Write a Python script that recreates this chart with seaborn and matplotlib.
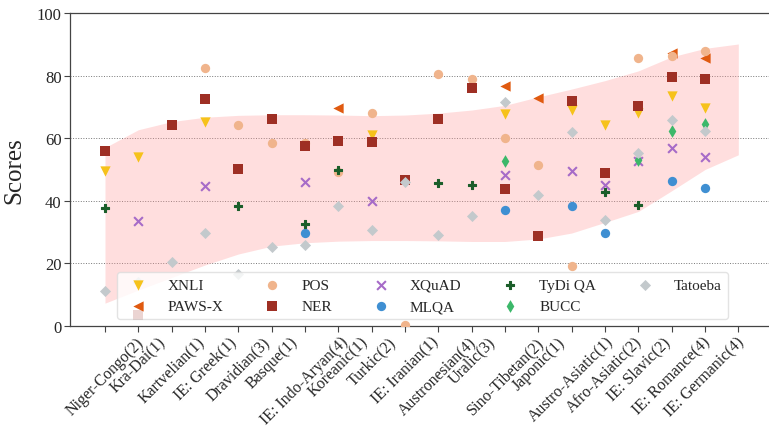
import numpy as np
import matplotlib
matplotlib.use("Agg")
import matplotlib.pyplot as plt
import seaborn as sns

# ----------------------------------------
# Data
# ----------------------------------------
families = ["Niger-Congo(2)", "Kra-Dai(1)", "Kartvelian(1)", "IE: Greek(1)",
            "Dravidian(3)", "Basque(1)", "IE: Indo-Aryan(4)", "Koreanic(1)",
            "Turkic(2)", "IE: Iranian(1)", "Austronesian(4)", "Uralic(3)",
            "Sino-Tibetan(2)", "Japonic(1)", "Austro-Asiatic(1)",
            "Afro-Asiatic(2)", "IE: Slavic(2)", "IE: Romance(4)", "IE: Germanic(4)"]

nan = np.nan
xnli    = [49.6, 54.1, nan, 65.3, nan, nan, nan, nan, 61.1, nan, nan, nan,
           67.6, nan, 69.1, 64.3, 67.9, 73.4, 69.8]
pawsx   = [nan, nan, nan, nan, nan, nan, nan, 69.6, nan, nan, nan, nan,
           76.8, 72.8, nan, nan, nan, 87.2, 85.5]
pos     = [nan, nan, nan, 82.3, 64.3, 58.4, 58.6, 49.1, 68.1, 0.3, 80.4, 78.8,
           60.1, 51.5, 19.1, nan, 85.5, 86.4, 87.8]
ner     = [56.0, 3.5, 64.3, 72.4, 50.3, 66.2, 57.5, 59.2, 58.7, 46.5, 66.0, 76.1,
           43.8, 28.8, 71.8, 48.8, 70.4, 79.6, 78.9]
xquad   = [nan, 33.4, nan, 44.6, nan, nan, 45.9, nan, 39.9, nan, nan, nan,
           48.3, nan, 49.4, 45.2, 52.8, 56.8, 53.9]
mlqa    = [nan, nan, nan, nan, nan, nan, 29.6, nan, nan, nan, nan, nan,
           37.1, nan, 38.4, 29.7, nan, 46.4, 44.1]
tydiqa  = [37.7, nan, nan, nan, 38.2, nan, 32.6, 49.8, nan, nan, 45.6, 45.2,
           nan, nan, nan, 42.7, 38.8, nan, nan]
bucc    = [nan, nan, nan, nan, nan, nan, nan, nan, nan, nan, nan, nan,
           52.6, nan, nan, nan, 53.0, 62.3, 64.5]
tatoeba = [11.3, 14.0, 20.3, 29.7, 16.6, 25.3, 26.0, 38.2, 30.8, 46.0, 29.2, 35.2,
           71.5, 41.9, 61.9, 34.0, 55.3, 65.9, 62.2]

# shaded band, one value per tick (20 ticks)
band_lower = [7.3, 11.5, 15.5, 19.5, 23.0, 25.5, 26.6, 27.1, 27.3, 27.3,
              27.2, 27.0, 27.0, 27.8, 29.7, 33.1, 36.6, 43.2, 50.0, 54.7]
band_upper = [57.0, 62.7, 65.3, 66.7, 67.3, 67.5, 67.5, 67.4, 67.2, 67.4,
              68.0, 69.0, 70.5, 73.2, 75.7, 78.4, 81.5, 86.0, 88.7, 90.1]

tasks = [
    ("XNLI", xnli, "v", "#f6c21b", 55),
    ("PAWS-X", pawsx, "<", "#e05a10", 55),
    ("POS", pos, "o", "#f0b48c", 45),
    ("NER", ner, "s", "#9e2f24", 50),
    ("XQuAD", xquad, "x", "#a66bc8", 40),
    ("MLQA", mlqa, "o", "#3f8fd2", 45),
    ("TyDi QA", tydiqa, "P", "#1b5e2a", 38),
    ("BUCC", bucc, "d", "#3cb86a", 42),
    ("Tatoeba", tatoeba, "D", "#c3c9cc", 32),
]

# ----------------------------------------
# Style
# ----------------------------------------
sns.set_style("white")
plt.rcParams["font.family"] = ["Liberation Serif", "DejaVu Serif"]

fig = plt.figure(figsize=(7.69, 4.31), dpi=100)
ax = fig.add_axes([70 / 769, 104 / 431, 705 / 769, 313 / 431])

xpos = np.arange(len(families))
band_x = np.arange(len(band_lower))
ax.fill_between(band_x, band_lower, band_upper, color="#ff9a9a", alpha=0.32,
                linewidth=0, zorder=1)

for name, vals, mk, col, size in tasks:
    if mk == "x":
        lw, ec = 1.5, None
    elif mk == "P":
        lw, ec = 0.8, col
    else:
        lw, ec = 0, None
    sns.scatterplot(x=xpos, y=vals, marker=mk, color=col, s=size,
                    linewidth=lw, edgecolor=ec, label=name, ax=ax, zorder=3)

ax.set_xlim(-1.05, 20.1)
ax.set_ylim(0, 100)
ax.set_yticks([0, 20, 40, 60, 80, 100])
ax.set_xticks(band_x)
ax.set_xticklabels(families + [""], rotation=45, fontsize=11.5)
ax.tick_params(axis="x", pad=1.5)
ax.tick_params(axis="y", labelsize=12, pad=2)
ax.tick_params(axis="both", direction="out", length=4, width=0.8,
               color="#444444", bottom=True, left=True)

ax.yaxis.grid(True, linestyle=":", color="#777777", linewidth=0.7)
ax.set_axisbelow(True)
for side in ["left", "bottom", "top"]:
    ax.spines[side].set_color("#444444")
    ax.spines[side].set_linewidth(0.9)
ax.spines["right"].set_visible(False)

ax.set_xlabel("")
ax.set_ylabel("Scores", fontsize=18, labelpad=8)

ax.legend(ncol=5, loc="lower center", bbox_to_anchor=(0.5, 0.022),
          borderaxespad=0, fontsize=11, framealpha=0.8, edgecolor="#dddddd",
          columnspacing=2.2, handletextpad=0.9, labelspacing=0.5)

fig.savefig("out.png", dpi=100)
